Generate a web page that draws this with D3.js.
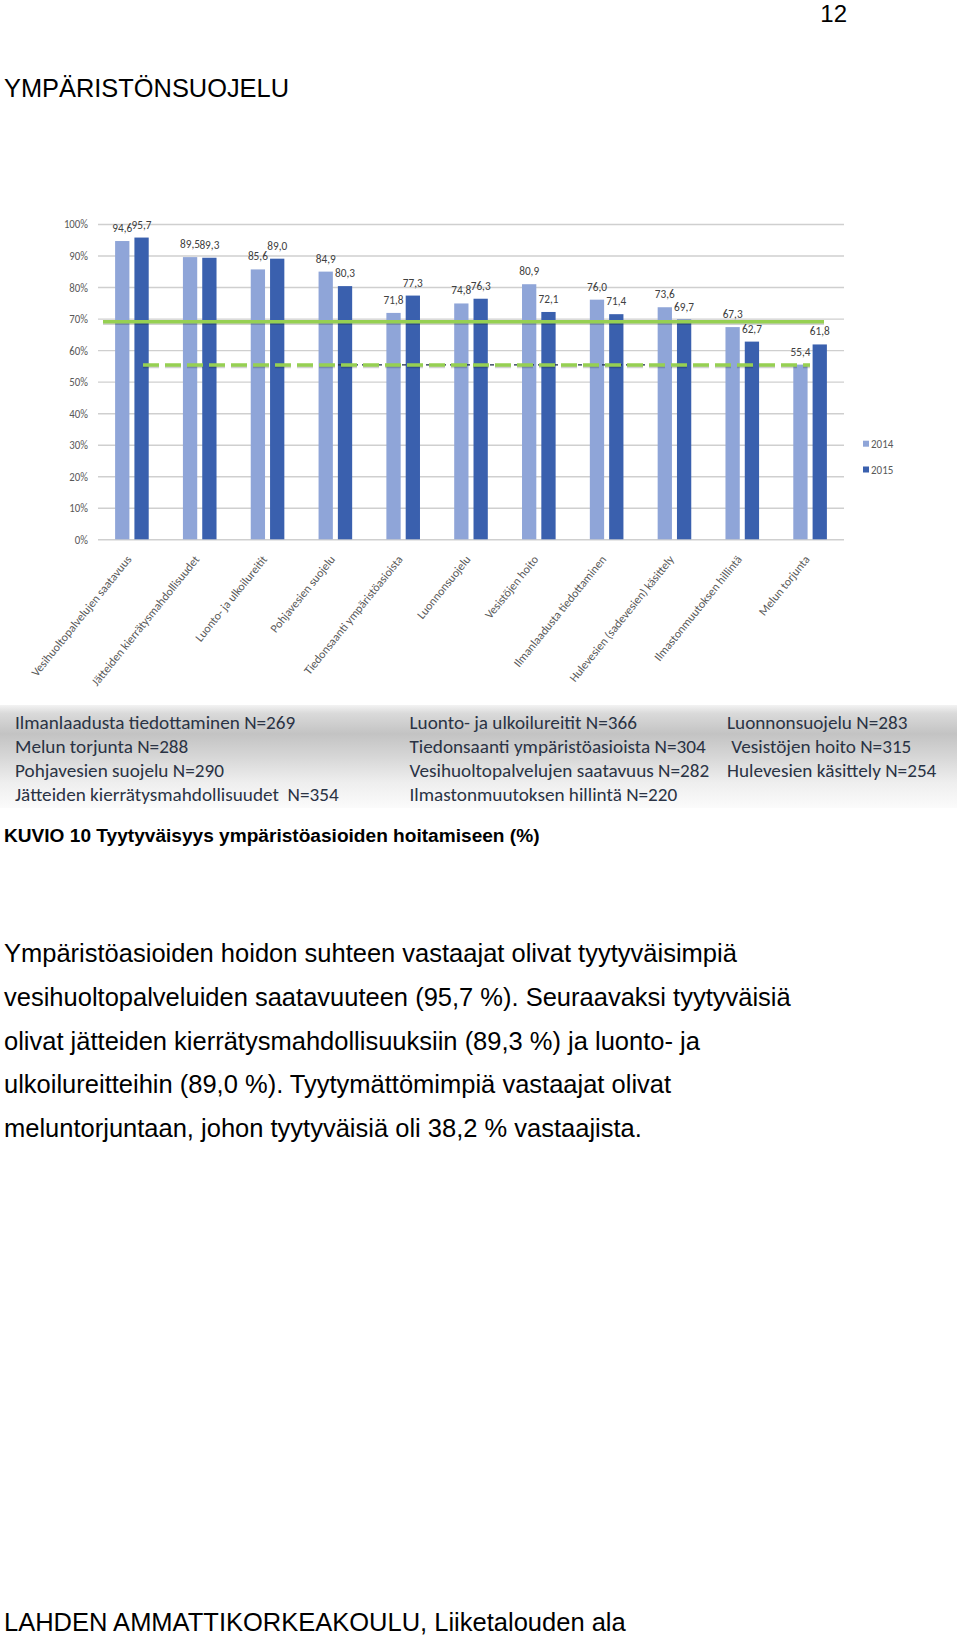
<!DOCTYPE html>
<html>
<head>
<meta charset="utf-8">
<script src="https://cdn.jsdelivr.net/npm/d3@7"></script>
<style>
  html, body { margin: 0; padding: 0; background: #fff; }
  svg { display: block; }
</style>
</head>
<body>
<div id="chart"></div>
<script>
// ---------------- DATA ----------------
const categories = [
  "Vesihuoltopalvelujen saatavuus",
  "Jätteiden kierrätysmahdollisuudet",
  "Luonto- ja ulkoilureitit",
  "Pohjavesien suojelu",
  "Tiedonsaanti ympäristöasioista",
  "Luonnonsuojelu",
  "Vesistöjen hoito",
  "Ilmanlaadusta tiedottaminen",
  "Hulevesien (sadevesien) käsittely",
  "Ilmastonmuutoksen hillintä",
  "Melun torjunta"
];
const seriesNames = ["2014", "2015"];
const values2014 = [94.6, 89.5, 85.6, 84.9, 71.8, 74.8, 80.9, 76.0, 73.6, 67.3, 55.4];
const values2015 = [95.7, 89.3, 89.0, 80.3, 77.3, 76.3, 72.1, 71.4, 69.7, 62.7, 61.8];
const yTicks = [0, 10, 20, 30, 40, 50, 60, 70, 80, 90, 100];
const solidLineValue = 69.0;
const dashedLineValue = 55.3;

const nColumns = [
  ["Ilmanlaadusta tiedottaminen N=269", "Melun torjunta N=288", "Pohjavesien suojelu N=290", "Jätteiden kierrätysmahdollisuudet  N=354"],
  ["Luonto- ja ulkoilureitit N=366", "Tiedonsaanti ympäristöasioista N=304", "Vesihuoltopalvelujen saatavuus N=282", "Ilmastonmuutoksen hillintä N=220"],
  ["Luonnonsuojelu N=283", " Vesistöjen hoito N=315", "Hulevesien käsittely N=254"]
];

const pageNumber = "12";
const heading = "YMPÄRISTÖNSUOJELU";
const caption = "KUVIO 10 Tyytyväisyys ympäristöasioiden hoitamiseen (%)";
const bodyLines = [
  "Ympäristöasioiden hoidon suhteen vastaajat olivat tyytyväisimpiä",
  "vesihuoltopalveluiden saatavuuteen (95,7 %). Seuraavaksi tyytyväisiä",
  "olivat jätteiden kierrätysmahdollisuuksiin (89,3 %) ja luonto- ja",
  "ulkoilureitteihin (89,0 %). Tyytymättömimpiä vastaajat olivat",
  "meluntorjuntaan, johon tyytyväisiä oli 38,2 % vastaajista."
];
const footer = "LAHDEN AMMATTIKORKEAKOULU, Liiketalouden ala";

// ---------------- SETUP ----------------
const W = 960, H = 1638;
const svg = d3.select("#chart").append("svg").attr("width", W).attr("height", H);
svg.append("rect").attr("width", W).attr("height", H).attr("fill", "#fff");

const pageFont = "'Liberation Sans', Arial, sans-serif";
const chartFont = "Carlito, Lato, sans-serif";
const fmt = d3.formatLocale({decimal: ",", thousands: " ", grouping: [3], currency: ["", "€"]}).format(".1f");
const stretch = 1.15;

// page texts
svg.append("text").attr("x", 847).attr("y", 21.5).attr("text-anchor", "end")
  .attr("font-family", pageFont).attr("font-size", 24).attr("fill", "#000").text(pageNumber);
svg.append("text").attr("x", 4).attr("y", 97)
  .attr("font-family", pageFont).attr("font-size", 25.4).attr("fill", "#000").text(heading);

// ---------------- CHART ----------------
const colors = {"2014": "#8fa5d8", "2015": "#3a60ae"};
const x0 = d3.scaleBand().domain(categories).range([98, 844]).paddingInner(0).paddingOuter(0);
const bw = x0.bandwidth();
const x1 = d3.scaleBand().domain(seriesNames).range([bw / 2 - 16.8, bw / 2 + 16.8]).paddingInner(0.26);
const y = d3.scaleLinear().domain([0, 100]).range([539.3, 224]);

const chart = svg.append("g");

// gridlines + y labels
const yAxis = d3.axisLeft(y).tickValues(yTicks).tickSize(-(844 - 98)).tickPadding(10).tickFormat(d => d + "%");
const gy = chart.append("g").attr("transform", "translate(98,0)").call(yAxis);
gy.select(".domain").remove();
gy.selectAll(".tick line").attr("stroke", "#cfcfcf").attr("stroke-width", 1.4);
gy.selectAll(".tick text")
  .attr("font-family", chartFont).attr("font-size", 10.8).attr("fill", "#595959")
  .attr("transform", `scale(1,${stretch})`);

// bars
const rows = categories.map((c, i) => ({cat: c, vals: [
  {s: "2014", v: values2014[i]}, {s: "2015", v: values2015[i]}
]}));
const grp = chart.append("g").selectAll("g").data(rows).join("g")
  .attr("transform", d => `translate(${x0(d.cat)},0)`);
grp.selectAll("rect").data(d => d.vals).join("rect")
  .attr("x", d => x1(d.s)).attr("width", x1.bandwidth())
  .attr("y", d => y(d.v)).attr("height", d => y(0) - y(d.v))
  .attr("fill", d => colors[d.s]);

// reference lines
const lines = chart.append("g");
lines.append("line").attr("x1", 330).attr("x2", 645)
  .attr("y1", y(dashedLineValue)).attr("y2", y(dashedLineValue))
  .attr("stroke", "#1c2a4a").attr("stroke-width", 1.2).attr("stroke-dasharray", "4,4");
lines.append("line").attr("x1", 103).attr("x2", 824)
  .attr("y1", y(solidLineValue) + 1.8).attr("y2", y(solidLineValue) + 1.8)
  .attr("stroke", "#000").attr("stroke-opacity", 0.18).attr("stroke-width", 3);
lines.append("line").attr("x1", 143).attr("x2", 810)
  .attr("y1", y(dashedLineValue) + 1.8).attr("y2", y(dashedLineValue) + 1.8)
  .attr("stroke", "#000").attr("stroke-opacity", 0.18).attr("stroke-width", 3)
  .attr("stroke-dasharray", "16,6");
lines.append("line").attr("x1", 103).attr("x2", 824)
  .attr("y1", y(solidLineValue)).attr("y2", y(solidLineValue))
  .attr("stroke", "#96d052").attr("stroke-width", 3.4);
lines.append("line").attr("x1", 143).attr("x2", 810)
  .attr("y1", y(dashedLineValue)).attr("y2", y(dashedLineValue))
  .attr("stroke", "#96d052").attr("stroke-width", 3.4)
  .attr("stroke-dasharray", "16,6");

// data labels
grp.selectAll("text.val").data(d => d.vals).join("text").attr("class", "val")
  .attr("transform", d => `translate(${x1(d.s) + x1.bandwidth() / 2},${y(d.v) - 9}) scale(1,${stretch})`)
  .attr("text-anchor", "middle")
  .attr("font-family", chartFont).attr("font-size", 11.3).attr("fill", "#404040")
  .text(d => fmt(d.v));

// x labels
chart.append("g").selectAll("text").data(categories).join("text")
  .attr("transform", d => `translate(${x0(d) + bw / 2 - 3},557) rotate(-51)`)
  .attr("text-anchor", "end").attr("dy", "0.35em")
  .attr("font-family", chartFont).attr("font-size", 11.9).attr("fill", "#595959")
  .text(d => d);

// legend
const leg = chart.append("g").selectAll("g").data(seriesNames).join("g")
  .attr("transform", (d, i) => `translate(863,${440.7 + i * 25.8})`);
leg.append("rect").attr("width", 6).attr("height", 6).attr("fill", d => colors[d]);
leg.append("text").attr("transform", `translate(8,7) scale(1,${stretch})`)
  .attr("font-family", chartFont).attr("font-size", 11).attr("fill", "#595959").text(d => d);

// ---------------- N BOX ----------------
const defs = svg.append("defs");
const grad = defs.append("linearGradient").attr("id", "boxgrad").attr("x1", 0).attr("y1", 0).attr("x2", 0).attr("y2", 1);
[[0, "#f3f3f3"], [0.08, "#dadada"], [0.28, "#c3c3c3"], [0.5, "#d6d6d6"], [0.75, "#eeeeee"], [1, "#fbfbfb"]]
  .forEach(([o, c]) => grad.append("stop").attr("offset", o).attr("stop-color", c));
svg.append("rect").attr("x", 0).attr("y", 705).attr("width", 957).attr("height", 103).attr("fill", "url(#boxgrad)");
const colX = [15, 409.5, 727];
const rowY = [729, 753, 777, 801];
nColumns.forEach((col, ci) => {
  svg.append("g").selectAll("text").data(col).join("text")
    .attr("x", colX[ci]).attr("y", (d, ri) => rowY[ri])
    .attr("xml:space", "preserve")
    .attr("font-family", chartFont).attr("font-size", 19.2).attr("fill", "#2a3344")
    .text(d => d);
});

// ---------------- CAPTION & BODY ----------------
svg.append("text").attr("x", 4).attr("y", 842)
  .attr("font-family", pageFont).attr("font-weight", "bold").attr("font-size", 19.1).attr("fill", "#000").text(caption);
svg.append("g").selectAll("text").data(bodyLines).join("text")
  .attr("x", 4).attr("y", (d, i) => 962 + i * 43.8)
  .attr("font-family", pageFont).attr("font-size", 25.5).attr("fill", "#000").text(d => d);
svg.append("text").attr("x", 4).attr("y", 1631)
  .attr("font-family", pageFont).attr("font-size", 25.5).attr("fill", "#000").text(footer);
</script>
</body>
</html>
